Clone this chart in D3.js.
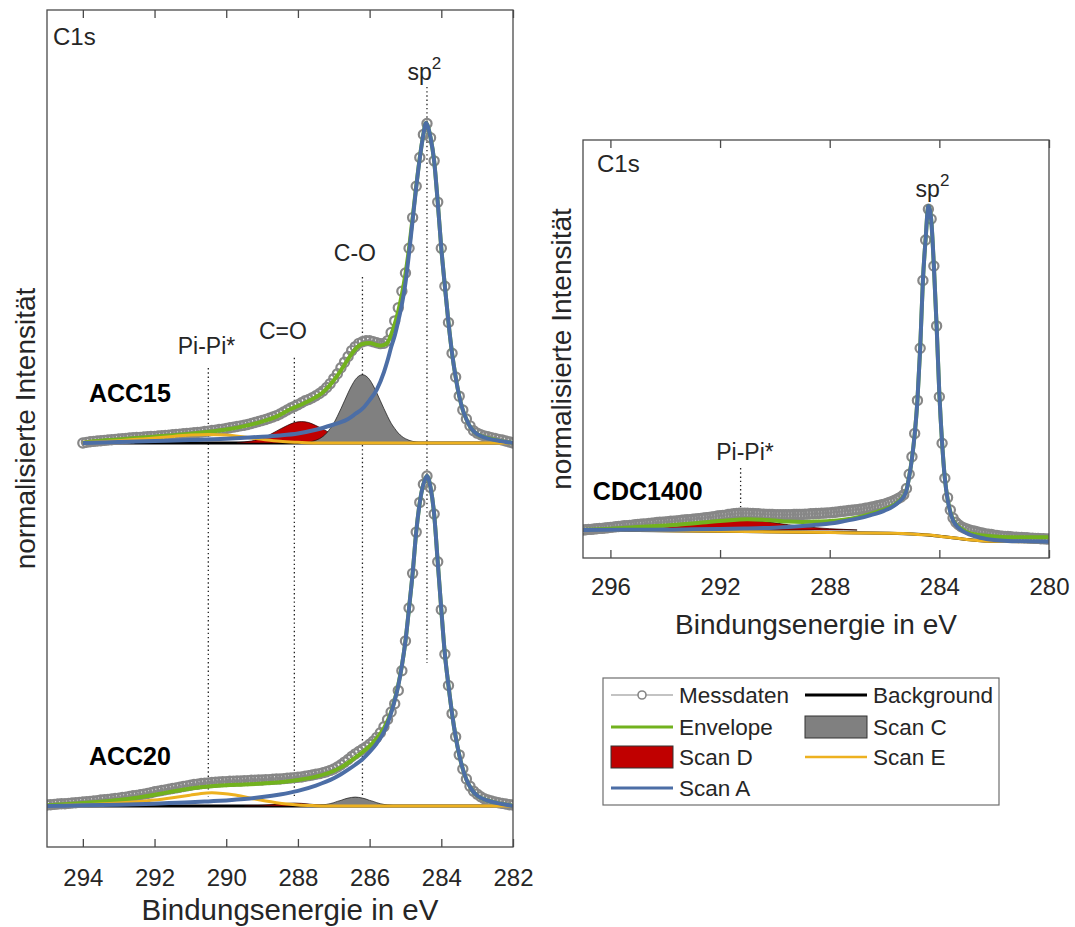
<!DOCTYPE html>
<html>
<head>
<meta charset="utf-8">
<script src="https://cdn.jsdelivr.net/npm/d3@7"></script>
<style>
  body { margin: 0; background: #ffffff; }
  svg text { font-family: "Liberation Sans", Arial, Helvetica, sans-serif; fill: #262626; }
</style>
</head>
<body>
<svg id="chart" width="1075" height="927"></svg>
<script>
// ---------------- Measured C1s spectra (0.1 eV grid, normalised intensity) ----------------
const gridStep = 0.1;

// ACC15: 294.0 eV down to 282.0 eV
const acc15Start = 294.0;
const acc15Messdaten = [
  0.000,0.002,0.004,0.005,0.006,0.007,0.008,0.009,0.010,0.011,
  0.012,0.013,0.014,0.015,0.016,0.017,0.017,0.018,0.019,0.020,
  0.020,0.021,0.022,0.023,0.024,0.025,0.026,0.027,0.028,0.029,
  0.030,0.031,0.032,0.033,0.035,0.036,0.038,0.039,0.041,0.042,
  0.044,0.046,0.048,0.050,0.052,0.054,0.056,0.059,0.062,0.065,
  0.068,0.071,0.075,0.079,0.083,0.088,0.094,0.100,0.106,0.111,
  0.116,0.122,0.128,0.132,0.137,0.143,0.150,0.158,0.168,0.180,
  0.195,0.210,0.228,0.245,0.262,0.280,0.292,0.302,0.307,0.310,
  0.310,0.307,0.304,0.301,0.302,0.310,0.335,0.370,0.410,0.460,
  0.515,0.590,0.683,0.778,0.865,0.935,0.968,0.925,0.855,0.730,
  0.590,0.475,0.365,0.272,0.200,0.142,0.100,0.073,0.052,0.037,
  0.030,0.025,0.021,0.019,0.016,0.014,0.011,0.009,0.006,0.003,
  0.000
];

// ACC20: 295.0 eV down to 282.0 eV
const acc20Start = 295.0;
const acc20Messdaten = [
  0.003,0.004,0.005,0.006,0.007,0.007,0.008,0.009,0.010,0.011,
  0.012,0.013,0.014,0.015,0.016,0.018,0.019,0.020,0.021,0.023,
  0.024,0.026,0.027,0.029,0.031,0.032,0.034,0.036,0.038,0.040,
  0.043,0.045,0.047,0.049,0.051,0.053,0.055,0.057,0.059,0.061,
  0.063,0.065,0.066,0.068,0.069,0.070,0.071,0.072,0.073,0.074,
  0.074,0.075,0.075,0.076,0.076,0.077,0.077,0.078,0.078,0.079,
  0.079,0.080,0.080,0.081,0.082,0.082,0.083,0.084,0.085,0.086,
  0.087,0.088,0.090,0.092,0.094,0.096,0.098,0.101,0.104,0.108,
  0.112,0.118,0.125,0.133,0.141,0.150,0.158,0.165,0.172,0.179,
  0.187,0.196,0.208,0.222,0.240,0.262,0.285,0.310,0.350,0.410,
  0.500,0.600,0.705,0.830,0.920,0.975,1.000,0.965,0.885,0.740,
  0.595,0.460,0.365,0.280,0.210,0.155,0.112,0.082,0.060,0.045,
  0.036,0.028,0.022,0.018,0.015,0.012,0.010,0.008,0.006,0.004,
  0.003
];

// CDC1400: 297.0 eV down to 280.0 eV
const cdcStart = 297.0;
const cdcMessdaten = [
  0.000,0.001,0.002,0.002,0.003,0.004,0.005,0.005,0.006,0.007,
  0.008,0.009,0.010,0.011,0.012,0.013,0.013,0.014,0.015,0.016,
  0.017,0.018,0.019,0.019,0.020,0.021,0.022,0.023,0.024,0.024,
  0.025,0.026,0.027,0.027,0.028,0.029,0.030,0.031,0.032,0.032,
  0.033,0.034,0.035,0.036,0.037,0.038,0.039,0.040,0.041,0.043,
  0.044,0.045,0.046,0.048,0.049,0.050,0.051,0.052,0.052,0.052,
  0.052,0.051,0.051,0.050,0.050,0.049,0.049,0.048,0.048,0.048,
  0.047,0.047,0.047,0.047,0.047,0.047,0.047,0.048,0.048,0.048,
  0.048,0.049,0.049,0.050,0.050,0.051,0.051,0.052,0.052,0.053,
  0.053,0.054,0.055,0.056,0.057,0.058,0.059,0.060,0.061,0.062,
  0.063,0.064,0.065,0.067,0.068,0.070,0.072,0.074,0.076,0.078,
  0.080,0.083,0.086,0.089,0.093,0.097,0.102,0.109,0.128,0.172,
  0.226,0.298,0.400,0.561,0.770,0.895,0.990,0.960,0.815,0.630,
  0.411,0.268,0.160,0.100,0.062,0.037,0.024,0.016,0.010,0.006,
  0.003,0.000,-0.002,-0.004,-0.006,-0.008,-0.010,-0.012,-0.013,-0.014,
  -0.016,-0.017,-0.018,-0.019,-0.020,-0.020,-0.021,-0.022,-0.022,-0.023,
  -0.023,-0.024,-0.024,-0.025,-0.025,-0.026,-0.026,-0.027,-0.027,-0.028,
  -0.028
];

// ---------------- Fit components as [binding energy, intensity] ----------------
// ACC15
const acc15Envelope = [[294,0.000],[293.7,0.005],[293,0.011],[292,0.019],[291,0.028],[290.5,0.034],[290,0.041],
  [289.5,0.051],[289,0.065],[288.6,0.080],[288.2,0.103],[288,0.112],[287.8,0.122],[287.5,0.139],[287.3,0.154],
  [287.1,0.176],[286.9,0.204],[286.7,0.237],[286.5,0.270],[286.3,0.294],[286.2,0.300],[286,0.303],[285.8,0.297],
  [285.7,0.295],[285.6,0.297],[285.5,0.304],[285.4,0.328],[285.3,0.360],[285.2,0.400],[285.1,0.450],[285,0.513],
  [284.9,0.590],[284.8,0.683],[284.7,0.778],[284.6,0.865],[284.5,0.935],[284.43,0.970],[284.3,0.925],[284.2,0.855],
  [284.1,0.730],[284,0.590],[283.9,0.475],[283.8,0.365],[283.7,0.272],[283.6,0.200],[283.5,0.142],[283.4,0.100],
  [283.3,0.072],[283.2,0.050],[283.1,0.036],[283,0.027],[282.8,0.018],[282.6,0.012],[282.4,0.007],[282.2,0.003],[282,0.000]];
const acc15ScanA = [[294,0.000],[293,0.003],[292,0.006],[291,0.009],[290,0.013],[289.5,0.016],[289,0.019],
  [288.5,0.023],[288,0.029],[287.5,0.040],[287,0.056],[286.8,0.063],[286.6,0.073],[286.4,0.088],[286.2,0.104],
  [286,0.130],[285.8,0.162],[285.6,0.215],[285.5,0.250],[285.4,0.290],[285.3,0.325],[285.2,0.370],[285.1,0.420],
  [285,0.485],[284.9,0.575],[284.8,0.675],[284.7,0.775],[284.6,0.863],[284.5,0.935],[284.43,0.970],[284.3,0.925],
  [284.2,0.855],[284.1,0.730],[284,0.590],[283.9,0.475],[283.8,0.365],[283.7,0.272],[283.6,0.200],[283.5,0.142],
  [283.4,0.100],[283.3,0.072],[283.2,0.050],[283.1,0.036],[283,0.027],[282.8,0.017],[282.6,0.011],[282.4,0.007],
  [282.2,0.003],[282,0.000]];
const acc15ScanC = [[288.0,0.000],[287.8,0.001],[287.6,0.005],[287.4,0.013],[287.3,0.020],[287.2,0.030],
  [287.1,0.044],[287.0,0.060],[286.9,0.081],[286.8,0.104],[286.7,0.128],[286.6,0.152],[286.5,0.174],[286.4,0.192],
  [286.3,0.203],[286.2,0.207],[286.1,0.203],[286.0,0.192],[285.9,0.174],[285.8,0.152],[285.7,0.128],[285.6,0.104],
  [285.5,0.081],[285.4,0.060],[285.3,0.044],[285.2,0.030],[285.1,0.020],[285.0,0.013],[284.8,0.005],[284.6,0.001],
  [284.4,0.000]];
const acc15ScanD = [[289.7,0.001],[289.5,0.003],[289.3,0.006],[289.1,0.011],[288.9,0.019],[288.7,0.030],
  [288.5,0.042],[288.3,0.053],[288.1,0.062],[287.9,0.065],[287.7,0.062],[287.5,0.053],[287.3,0.042],[287.1,0.030],
  [286.9,0.019],[286.7,0.011],[286.5,0.006],[286.3,0.003],[286.1,0.001],[285.9,0.000]];
const acc15ScanE = [[294,0.002],[293.5,0.004],[293,0.007],[292.5,0.011],[292,0.015],[291.5,0.020],[291,0.024],
  [290.5,0.026],[290,0.024],[289.5,0.018],[289,0.011],[288.5,0.005],[288,0.002],[287.5,0.000],[282,0.000]];
const acc15Background = [[294,0.000],[282,0.000]];

// ACC20
const acc20Envelope = [[295,0.002],[294.5,0.005],[294,0.009],[293.5,0.013],[293,0.018],[292.5,0.025],[292,0.034],
  [291.5,0.044],[291,0.053],[290.5,0.059],[290,0.063],[289.5,0.065],[289,0.068],[288.5,0.072],[288,0.079],
  [287.5,0.089],[287,0.106],[286.8,0.117],[286.6,0.131],[286.4,0.147],[286.2,0.163],[286,0.181],[285.8,0.205],
  [285.6,0.236],[285.4,0.285],[285.3,0.322],[285.2,0.368],[285.1,0.425],[285,0.500],[284.9,0.600],[284.8,0.705],
  [284.7,0.830],[284.6,0.920],[284.5,0.975],[284.4,1.000],[284.3,0.965],[284.2,0.885],[284.1,0.740],[284,0.595],
  [283.9,0.460],[283.8,0.365],[283.7,0.280],[283.6,0.210],[283.5,0.155],[283.4,0.112],[283.3,0.080],[283.2,0.058],
  [283.1,0.042],[283,0.032],[282.8,0.020],[282.6,0.013],[282.4,0.008],[282.2,0.004],[282,0.001]];
const acc20ScanA = [[295,0.000],[294,0.002],[293,0.004],[292,0.007],[291,0.011],[290.5,0.014],[290,0.017],
  [289.5,0.021],[289,0.027],[288.5,0.035],[288,0.046],[287.5,0.062],[287,0.084],[286.8,0.096],[286.6,0.110],
  [286.4,0.125],[286.2,0.142],[286,0.164],[285.8,0.190],[285.6,0.225],[285.5,0.250],[285.4,0.282],[285.3,0.320],
  [285.2,0.365],[285.1,0.425],[285,0.500],[284.9,0.600],[284.8,0.705],[284.7,0.830],[284.6,0.920],[284.5,0.975],
  [284.4,1.000],[284.3,0.965],[284.2,0.885],[284.1,0.740],[284,0.595],[283.9,0.460],[283.8,0.365],[283.7,0.280],
  [283.6,0.210],[283.5,0.155],[283.4,0.112],[283.3,0.080],[283.2,0.058],[283.1,0.042],[283,0.032],[282.8,0.020],
  [282.6,0.013],[282.4,0.008],[282.2,0.004],[282,0.000]];
const acc20ScanC = [[287.6,0.000],[287.4,0.002],[287.2,0.005],[287,0.010],[286.9,0.014],[286.8,0.017],[286.7,0.021],
  [286.6,0.024],[286.5,0.026],[286.4,0.027],[286.3,0.026],[286.2,0.024],[286.1,0.021],[286,0.017],[285.9,0.014],
  [285.8,0.010],[285.7,0.007],[285.5,0.003],[285.3,0.001],[285.1,0.000]];
const acc20ScanD = [[289.5,0.000],[289,0.002],[288.6,0.005],[288.3,0.008],[288.1,0.009],[287.9,0.008],
  [287.6,0.005],[287.3,0.002],[287,0.000]];
const acc20ScanE = [[295,0.000],[294.5,0.002],[294,0.004],[293.5,0.006],[293,0.009],[292.5,0.013],[292,0.018],
  [291.5,0.025],[291,0.033],[290.7,0.038],[290.4,0.040],[290.1,0.038],[289.8,0.034],[289.5,0.028],[289.2,0.021],
  [288.9,0.015],[288.6,0.010],[288.3,0.006],[288,0.003],[287.5,0.001],[287,0.000],[282,0.000]];
const acc20Background = [[295,0.000],[282,0.000]];

// CDC1400
const cdcEnvelope = [[297,0.000],[296,0.004],[295,0.009],[294,0.014],[293,0.020],[292.5,0.024],[292,0.028],
  [291.5,0.031],[291,0.033],[290.5,0.032],[290,0.029],[289.5,0.026],[289,0.025],[288.5,0.026],[288,0.028],
  [287.5,0.032],[287,0.039],[286.5,0.050],[286,0.064],[285.7,0.075],[285.5,0.087],[285.3,0.105],[285.2,0.123],
  [285.1,0.166],[285,0.221],[284.9,0.295],[284.8,0.400],[284.7,0.560],[284.6,0.770],[284.5,0.900],[284.4,1.000],
  [284.3,0.960],[284.2,0.815],[284.1,0.630],[284,0.420],[283.9,0.270],[283.8,0.160],[283.7,0.096],[283.6,0.057],
  [283.5,0.032],[283.4,0.018],[283.2,0.004],[283,-0.006],[282.5,-0.016],[282,-0.020],[281.5,-0.022],[281,-0.022],[280,-0.022]];
const cdcScanA = [[297,0.000],[295,0.001],[294,0.001],[293,0.002],[292,0.003],[291,0.005],[290,0.007],
  [289.5,0.009],[289,0.012],[288.5,0.016],[288,0.020],[287.5,0.027],[287,0.035],[286.5,0.046],[286,0.060],
  [285.7,0.072],[285.5,0.085],[285.3,0.103],[285.2,0.122],[285.1,0.165],[285,0.220],[284.9,0.295],[284.8,0.400],
  [284.7,0.560],[284.6,0.770],[284.5,0.900],[284.4,1.000],[284.3,0.960],[284.2,0.815],[284.1,0.630],[284,0.420],
  [283.9,0.270],[283.8,0.160],[283.7,0.095],[283.6,0.055],[283.5,0.030],[283.4,0.016],[283.2,0.000],[283,-0.010],
  [282.5,-0.024],[282,-0.031],[281.5,-0.034],[281,-0.035],[280,-0.036]];
const cdcScanD = [[296.5,0.000],[296,0.003],[295,0.007],[294,0.012],[293,0.018],[292.5,0.022],[292,0.026],
  [291.5,0.029],[291.1,0.030],[290.7,0.029],[290.3,0.026],[290,0.022],[289.5,0.016],[289,0.011],[288.5,0.007],
  [288,0.004],[287.5,0.002],[287,0.000]];
const cdcScanE = [[297,0.000],[295,-0.001],[293,-0.003],[291,-0.005],[289,-0.007],[287,-0.009],[286,-0.010],
  [285,-0.012],[284.5,-0.015],[284,-0.019],[283.5,-0.024],[283,-0.029],[282.5,-0.033],[282,-0.035],[281,-0.036],[280,-0.036]];
const cdcBackground = [[297,0.000],[293,-0.003],[289,-0.007],[285,-0.012],[284,-0.019],[283,-0.029],[282,-0.035],[280,-0.036]];

// Axis tick labels
const leftTicks = [294, 292, 290, 288, 286, 284, 282];
const rightTicks = [296, 292, 288, 284, 280];

// Peak assignments (binding energies)
const leftPeaks = [
  { label: "Pi-Pi*", energy: 290.5 },
  { label: "C=O", energy: 288.1 },
  { label: "C-O", energy: 286.2 },
  { label: "sp2", energy: 284.4 }
];
const rightPeaks = [{ label: "Pi-Pi*", energy: 291.25 }];

// ---------------- Styling ----------------
const colors = {
  data: "#878787",
  envelope: "#72b21e",
  scanA: "#4c6ea6",
  scanC: "#808080",
  scanD: "#c00000",
  scanE: "#edb120",
  background: "#000000",
  axis: "#4a4a4a",
  text: "#262626"
};

const svg = d3.select("#chart");

const leftBox = { x0: 47, x1: 513, y0: 10, y1: 847 };
const rightBox = { x0: 583, x1: 1049, y0: 140, y1: 558 };

const xL = d3.scaleLinear().domain([295, 282]).range([leftBox.x0, leftBox.x1]);
const yL = d3.scaleLinear().domain([0, 1]).range([806, 476]);
const xR = d3.scaleLinear().domain([297, 280]).range([rightBox.x0, rightBox.x1]);
const yR = d3.scaleLinear().domain([0, 1]).range([530, 206]);

const acc15Offset = 1.1; // vertical stacking of ACC15 above ACC20

function gridSeries(start, values) {
  return values.map((v, i) => [start - i * gridStep, v]);
}

function drawSpectrum(g, x, y, offset, s) {
  const line = d3.line().x(d => x(d[0])).y(d => y(d[1] + offset)).curve(d3.curveMonotoneX);
  const area = d3.area().x(d => x(d[0])).y0(y(offset)).y1(d => y(d[1] + offset)).curve(d3.curveMonotoneX);

  g.append("path").datum(s.background).attr("d", line)
    .attr("fill", "none").attr("stroke", colors.background).attr("stroke-width", 3);

  g.append("path").datum(s.scanD).attr("d", area)
    .attr("fill", colors.scanD).attr("stroke", "#1a0000").attr("stroke-width", 0.7);
  g.append("path").datum(s.scanC).attr("d", area)
    .attr("fill", colors.scanC).attr("stroke", "#111").attr("stroke-width", 0.7);

  const pts = gridSeries(s.start, s.data);
  g.append("path").datum(pts).attr("d", d3.line().x(d => x(d[0])).y(d => y(d[1] + offset)))
    .attr("fill", "none").attr("stroke", colors.data).attr("stroke-width", 1);
  g.append("g").selectAll("circle").data(pts).join("circle")
    .attr("cx", d => x(d[0])).attr("cy", d => y(d[1] + offset)).attr("r", 4.6)
    .attr("fill", "none").attr("stroke", colors.data).attr("stroke-width", 2.2);

  g.append("path").datum(s.envelope).attr("d", line)
    .attr("fill", "none").attr("stroke", colors.envelope).attr("stroke-width", 4);
  g.append("path").datum(s.scanE).attr("d", line)
    .attr("fill", "none").attr("stroke", colors.scanE).attr("stroke-width", 3);
  g.append("path").datum(s.scanA).attr("d", line)
    .attr("fill", "none").attr("stroke", colors.scanA).attr("stroke-width", 4)
    .attr("stroke-linejoin", "round");
}

function drawFrame(box, x, ticks, labelPad) {
  const g = svg.append("g");
  g.append("rect").attr("x", box.x0).attr("y", box.y0)
    .attr("width", box.x1 - box.x0).attr("height", box.y1 - box.y0)
    .attr("fill", "none").attr("stroke", colors.axis).attr("stroke-width", 1.3);

  const bottom = g.append("g").attr("transform", `translate(0,${box.y1})`)
    .call(d3.axisBottom(x).tickValues(ticks).tickSizeInner(-8).tickSizeOuter(0)
      .tickPadding(labelPad).tickFormat(d3.format("d")));
  const top = g.append("g").attr("transform", `translate(0,${box.y0})`)
    .call(d3.axisTop(x).tickValues(ticks).tickSizeInner(-8).tickSizeOuter(0).tickFormat(""));
  [bottom, top].forEach(a => {
    a.select(".domain").remove();
    a.selectAll(".tick line").attr("stroke", colors.axis).attr("stroke-width", 1.3);
  });
  bottom.selectAll(".tick text")
    .attr("font-size", 24).attr("font-family", "Liberation Sans, Arial, sans-serif")
    .attr("fill", colors.text);
  return g;
}

// ---------------- Left panel: ACC15 / ACC20 ----------------
svg.append("clipPath").attr("id", "clipL").append("rect")
  .attr("x", leftBox.x0).attr("y", leftBox.y0)
  .attr("width", leftBox.x1 - leftBox.x0).attr("height", leftBox.y1 - leftBox.y0);
const gL = svg.append("g").attr("clip-path", "url(#clipL)");

// peak position markers
const leftMarkerSpan = {
  "Pi-Pi*": [1.327, 0.027], "C=O": [1.358, 0.024], "C-O": [1.603, 0.033], "sp2": [2.179, 0.433]
};
gL.selectAll("line.marker").data(leftPeaks).join("line")
  .attr("class", "marker")
  .attr("x1", d => xL(d.energy)).attr("x2", d => xL(d.energy))
  .attr("y1", d => yL(leftMarkerSpan[d.label][0])).attr("y2", d => yL(leftMarkerSpan[d.label][1]))
  .attr("stroke", "#222").attr("stroke-width", 1.3).attr("stroke-dasharray", "1.4,2.8");

drawSpectrum(gL, xL, yL, 0, {
  start: acc20Start, data: acc20Messdaten, envelope: acc20Envelope, scanA: acc20ScanA,
  scanC: acc20ScanC, scanD: acc20ScanD, scanE: acc20ScanE, background: acc20Background
});
drawSpectrum(gL, xL, yL, acc15Offset, {
  start: acc15Start, data: acc15Messdaten, envelope: acc15Envelope, scanA: acc15ScanA,
  scanC: acc15ScanC, scanD: acc15ScanD, scanE: acc15ScanE, background: acc15Background
});

drawFrame(leftBox, xL, leftTicks, 22);

// peak labels (left)
const leftLabelPos = {
  "Pi-Pi*": [290.55, 1.37], "C=O": [288.42, 1.415], "C-O": [286.41, 1.652], "sp2": [284.47, 2.2]
};
leftPeaks.forEach(p => {
  const t = svg.append("text")
    .attr("x", xL(leftLabelPos[p.label][0])).attr("y", yL(leftLabelPos[p.label][1]))
    .attr("text-anchor", "middle").attr("font-size", 23);
  if (p.label === "sp2") {
    t.append("tspan").text("sp");
    t.append("tspan").attr("font-size", 17).attr("dy", -11).text("2");
  } else {
    t.text(p.label);
  }
});

svg.append("text").attr("x", leftBox.x0 + 6).attr("y", 45).attr("font-size", 24).text("C1s");
svg.append("text").attr("x", xL(293.83)).attr("y", yL(1.224)).attr("font-size", 25)
  .attr("font-weight", "bold").style("fill", "#000").text("ACC15");
svg.append("text").attr("x", xL(293.83)).attr("y", yL(0.124)).attr("font-size", 25)
  .attr("font-weight", "bold").style("fill", "#000").text("ACC20");

svg.append("text").attr("x", 290).attr("y", 920)
  .attr("text-anchor", "middle").attr("font-size", 29.5).text("Bindungsenergie in eV");
svg.append("text").attr("transform", `translate(35,${(leftBox.y0 + leftBox.y1) / 2}) rotate(-90)`)
  .attr("text-anchor", "middle").attr("font-size", 28).text("normalisierte Intensität");

// ---------------- Right panel: CDC1400 ----------------
svg.append("clipPath").attr("id", "clipR").append("rect")
  .attr("x", rightBox.x0).attr("y", rightBox.y0)
  .attr("width", rightBox.x1 - rightBox.x0).attr("height", rightBox.y1 - rightBox.y0);
const gR = svg.append("g").attr("clip-path", "url(#clipR)");

gR.selectAll("line.marker").data(rightPeaks).join("line")
  .attr("class", "marker")
  .attr("x1", d => xR(d.energy)).attr("x2", d => xR(d.energy))
  .attr("y1", yR(0.191)).attr("y2", yR(0.04))
  .attr("stroke", "#222").attr("stroke-width", 1.3).attr("stroke-dasharray", "1.4,2.8");

drawSpectrum(gR, xR, yR, 0, {
  start: cdcStart, data: cdcMessdaten, envelope: cdcEnvelope, scanA: cdcScanA,
  scanC: [], scanD: cdcScanD, scanE: cdcScanE, background: cdcBackground
});

drawFrame(rightBox, xR, rightTicks, 20);

svg.append("text").attr("x", xR(291.09)).attr("y", yR(0.216))
  .attr("text-anchor", "middle").attr("font-size", 23).text("Pi-Pi*");
const sp2R = svg.append("text").attr("x", xR(284.25)).attr("y", yR(1.028))
  .attr("text-anchor", "middle").attr("font-size", 23);
sp2R.append("tspan").text("sp");
sp2R.append("tspan").attr("font-size", 17).attr("dy", -11).text("2");

svg.append("text").attr("x", rightBox.x0 + 14).attr("y", 172).attr("font-size", 24).text("C1s");
svg.append("text").attr("x", xR(296.64)).attr("y", yR(0.0926)).attr("font-size", 25)
  .attr("font-weight", "bold").style("fill", "#000").text("CDC1400");

svg.append("text").attr("x", (rightBox.x0 + rightBox.x1) / 2).attr("y", 634)
  .attr("text-anchor", "middle").attr("font-size", 28).text("Bindungsenergie in eV");
svg.append("text").attr("transform", `translate(571,${(rightBox.y0 + rightBox.y1) / 2}) rotate(-90)`)
  .attr("text-anchor", "middle").attr("font-size", 28).text("normalisierte Intensität");

// ---------------- Legend ----------------
const legendItems = [
  { name: "Messdaten", kind: "marker", color: colors.data },
  { name: "Envelope", kind: "line", color: colors.envelope },
  { name: "Scan D", kind: "patch", color: colors.scanD },
  { name: "Scan A", kind: "line", color: colors.scanA },
  { name: "Background", kind: "line", color: colors.background },
  { name: "Scan C", kind: "patch", color: colors.scanC },
  { name: "Scan E", kind: "line", color: colors.scanE }
];
const leg = svg.append("g");
leg.append("rect").attr("x", 603).attr("y", 678).attr("width", 396).attr("height", 127)
  .attr("fill", "#fff").attr("stroke", "#6e6e6e").attr("stroke-width", 1.2);
const colX = [611, 805];
const rowY = [695, 727, 757, 788];
legendItems.forEach((it, i) => {
  const col = i < 4 ? 0 : 1;
  const row = i < 4 ? i : i - 4;
  const x0 = colX[col], cy = rowY[row];
  if (it.kind === "patch") {
    leg.append("rect").attr("x", x0).attr("y", cy - 11).attr("width", 62).attr("height", 22)
      .attr("fill", it.color).attr("stroke", "#333").attr("stroke-width", 1);
  } else {
    leg.append("line").attr("x1", x0).attr("x2", x0 + 62).attr("y1", cy).attr("y2", cy)
      .attr("stroke", it.color).attr("stroke-width", it.kind === "marker" ? 1.2 : (it.name === "Scan E" ? 2.5 : 3));
    if (it.kind === "marker") {
      leg.append("circle").attr("cx", x0 + 31).attr("cy", cy).attr("r", 4)
        .attr("fill", "#fff").attr("stroke", it.color).attr("stroke-width", 1.6);
    }
  }
  leg.append("text").attr("x", x0 + 68).attr("y", cy + 8).attr("font-size", 22.5).text(it.name);
});
</script>
</body>
</html>
